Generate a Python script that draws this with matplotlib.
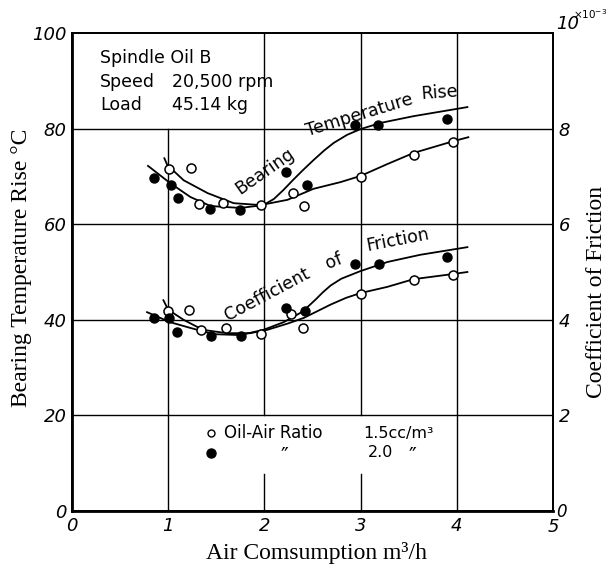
import numpy as np
import matplotlib
matplotlib.use("Agg")
import matplotlib.pyplot as plt

# measured points, oil-air ratio 1.5 cc/m3 (open) and 2.0 cc/m3 (filled)
temp_open_x = [1.01, 1.24, 1.32, 1.57, 1.96, 2.30, 2.41, 3.00, 3.55, 3.96]
temp_open_y = [71.5, 71.7, 64.2, 64.4, 64.0, 66.5, 63.8, 69.8, 74.4, 77.1]
temp_fill_x = [0.85, 1.03, 1.10, 1.43, 1.75, 2.22, 2.44, 2.94, 3.18, 3.90]
temp_fill_y = [69.6, 68.3, 65.4, 63.1, 62.9, 71.0, 68.3, 80.8, 80.8, 82.1]

# friction in units of 1e-3
fric_open_x = [1.00, 1.22, 1.34, 1.60, 1.96, 2.28, 2.40, 3.00, 3.55, 3.96]
fric_open_y = [4.19, 4.21, 3.79, 3.83, 3.71, 4.12, 3.83, 4.54, 4.83, 4.94]
fric_fill_x = [0.85, 1.01, 1.09, 1.44, 1.76, 2.22, 2.42, 2.94, 3.19, 3.90]
fric_fill_y = [4.04, 4.04, 3.75, 3.67, 3.67, 4.25, 4.19, 5.17, 5.17, 5.31]

# hand drawn curves
temp_open_cx = [0.96, 0.99, 1.16, 1.41, 1.68, 1.96, 2.24, 2.51, 2.79, 3.00, 3.28, 3.55, 3.97, 4.12]
temp_open_cy = [73.8, 72.4, 69.2, 66.5, 64.4, 64.0, 65.1, 67.4, 68.8, 70.1, 72.6, 74.9, 77.4, 78.2]
temp_fill_cx = [0.79, 1.02, 1.23, 1.44, 1.75, 1.99, 2.10, 2.20, 2.30, 2.40, 2.51, 2.62, 2.72, 2.86, 3.00, 3.21, 3.55, 4.11]
temp_fill_cy = [72.2, 68.6, 65.7, 63.8, 63.4, 64.0, 65.3, 67.2, 69.3, 71.3, 73.4, 75.4, 77.0, 78.7, 79.9, 81.2, 82.6, 84.5]
fric_open_cx = [0.95, 1.00, 1.16, 1.36, 1.61, 1.85, 2.03, 2.24, 2.41, 2.55, 2.69, 2.85, 3.00, 3.28, 3.55, 3.97, 4.11]
fric_open_cy = [4.41, 4.21, 4.00, 3.79, 3.72, 3.72, 3.79, 3.92, 4.04, 4.18, 4.32, 4.46, 4.56, 4.69, 4.85, 4.96, 5.00]
fric_fill_cx = [0.78, 1.02, 1.23, 1.47, 1.75, 1.99, 2.20, 2.37, 2.45, 2.53, 2.61, 2.69, 2.80, 3.00, 3.28, 3.62, 4.11]
fric_fill_cy = [4.16, 3.95, 3.83, 3.70, 3.68, 3.79, 3.95, 4.14, 4.27, 4.42, 4.58, 4.72, 4.86, 5.02, 5.21, 5.36, 5.52]

hand = ["DejaVu Sans"]
serif = ["Liberation Serif", "DejaVu Serif"]

fig = plt.figure(figsize=(6.09, 5.67), dpi=100)
ax = fig.add_axes([72/609, 1-511/567, 481/609, 478/567])
ax.set_xlim(0, 5)
ax.set_ylim(0, 100)
ax2 = ax.twinx()
ax2.set_ylim(0, 10)

# grid (cut where the info box and the legend sit)
for yv in [20, 40, 60, 80]:
    ax.axhline(yv, color="black", lw=1.0, zorder=1)
ax.axvline(1, ymax=0.8, color="black", lw=1.0, zorder=1)
for xv in [2, 3]:
    ax.axvline(xv, ymax=0.077, color="black", lw=1.0, zorder=1)
    ax.axvline(xv, ymin=0.2, color="black", lw=1.0, zorder=1)
ax.axvline(4, color="black", lw=1.0, zorder=1)

for a in (ax, ax2):
    for s in a.spines.values():
        s.set_linewidth(1.3)
ax.spines["left"].set_linewidth(2)
ax.spines["bottom"].set_linewidth(2)

lw = 1.3
ax.plot(temp_open_cx, temp_open_cy, color="black", lw=lw, zorder=2)
ax.plot(temp_fill_cx, temp_fill_cy, color="black", lw=lw, zorder=2)
ax2.plot(fric_open_cx, fric_open_cy, color="black", lw=lw, zorder=2)
ax2.plot(fric_fill_cx, fric_fill_cy, color="black", lw=lw, zorder=2)

ms = 6.5
ax.plot(temp_open_x, temp_open_y, "o", ms=ms, mfc="white", mec="black", mew=1.1, zorder=3)
ax.plot(temp_fill_x, temp_fill_y, "o", ms=ms, mfc="black", mec="black", zorder=3)
ax2.plot(fric_open_x, fric_open_y, "o", ms=ms, mfc="white", mec="black", mew=1.1, zorder=3)
ax2.plot(fric_fill_x, fric_fill_y, "o", ms=ms, mfc="black", mec="black", zorder=3)

# ticks
ax.set_xticks([0, 1, 2, 3, 4, 5])
ax.set_xticklabels(["0", "1", "2", "3", "4", ""], family=hand, fontsize=13, style="italic")
ax.set_yticks([0, 20, 40, 60, 80, 100])
ax.set_yticklabels(["0", "20", "40", "60", "80", "100"], family=hand, fontsize=13, style="italic")
ax2.set_yticks([0, 2, 4, 6, 8, 10])
ax2.set_yticklabels(["", "2", "4", "6", "8", ""], family=hand, fontsize=13, style="italic")
ax.tick_params(length=0, pad=4)
ax2.tick_params(length=0, pad=4)
ax.text(5.0, -1.5, "5", ha="center", va="top", family=hand, fontsize=13, style="italic")
ax.text(5.03, -0.2, "0", ha="left", va="center", family=hand, fontsize=12, style="italic")
ax.text(5.03, 101.8, "10", ha="left", va="center", family=hand, fontsize=13, style="italic")
ax.text(5.21, 104.0, r"$\times10^{-3}$", ha="left", va="center", fontsize=7.5)

# axis titles
fig.text(316/609, 1-553/567, "Air Comsumption m³/h", family=serif, fontsize=17,
         ha="center", va="center")
fig.text(22/609, 1-268/567, "Bearing Temperature Rise °C", family=serif, fontsize=17,
         ha="center", va="center", rotation=90)
fig.text(596/609, 1-292/567, "Coefficient of Friction", family=serif, fontsize=17,
         ha="center", va="center", rotation=90)

# info box in the top-left grid cell
fs_box = 12.5
ax.text(0.29, 94.7, "Spindle Oil B", family=hand, fontsize=fs_box, va="center")
ax.text(0.29, 89.8, "Speed", family=hand, fontsize=fs_box, va="center")
ax.text(1.04, 89.8, "20,500 rpm", family=hand, fontsize=fs_box, va="center")
ax.text(0.29, 85.0, "Load", family=hand, fontsize=fs_box, va="center")
ax.text(1.04, 85.0, "45.14 kg", family=hand, fontsize=fs_box, va="center")

# curve labels
ax.text(2.00, 71.0, "Bearing", family=hand, fontsize=12.5, rotation=35, ha="center", va="center")
ax.text(2.99, 82.8, "Temperature", family=hand, fontsize=12.5, rotation=17, ha="center", va="center")
ax.text(3.82, 87.6, "Rise", family=hand, fontsize=12.5, rotation=4, ha="center", va="center")
ax.text(2.03, 45.3, "Coefficient", family=hand, fontsize=12.5, rotation=28, ha="center", va="center")
ax.text(2.72, 52.3, "of", family=hand, fontsize=12.5, rotation=22, ha="center", va="center")
ax.text(3.39, 56.7, "Friction", family=hand, fontsize=12.5, rotation=11, ha="center", va="center")

# legend
ax.plot([1.44], [16.3], "o", ms=5, mfc="white", mec="black", mew=1)
ax.text(1.58, 16.3, "Oil-Air Ratio", family=hand, fontsize=12, va="center")
ax.text(3.03, 16.3, "1.5cc/m³", family=hand, fontsize=11.5, va="center")
ax.plot([1.45], [12.2], "o", ms=6.5, mfc="black", mec="black")
ax.text(2.17, 11.2, "″", family=hand, fontsize=15, va="center")
ax.text(3.08, 12.2, "2.0", family=hand, fontsize=11.5, va="center")
ax.text(3.50, 11.2, "″", family=hand, fontsize=15, va="center")

fig.savefig("out.png", dpi=100)
